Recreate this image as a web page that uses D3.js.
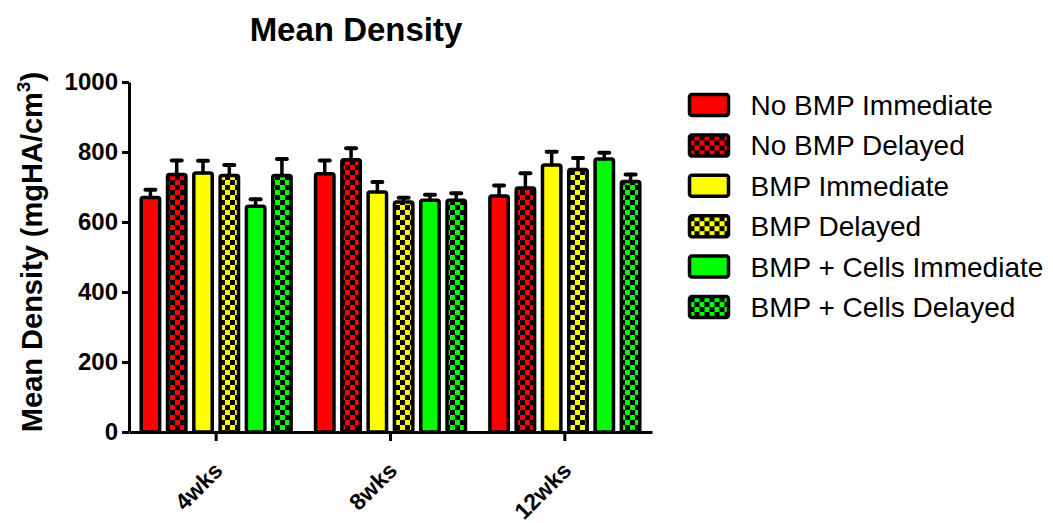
<!DOCTYPE html>
<html>
<head>
<meta charset="utf-8">
<script src="https://cdn.jsdelivr.net/npm/d3@7"></script>
<style>
  html, body { margin: 0; padding: 0; background: #fff; }
  svg { display: block; font-family: "Liberation Sans", Arial, sans-serif; }
</style>
</head>
<body>
<svg id="chart" width="1053" height="523"></svg>
<script>
// Time points on the x axis
const categories = ["4wks", "8wks", "12wks"];

// Treatment groups (legend order)
const seriesNames = [
  "No BMP Immediate",
  "No BMP Delayed",
  "BMP Immediate",
  "BMP Delayed",
  "BMP + Cells Immediate",
  "BMP + Cells Delayed"
];
const seriesColors = ["#ff0000", "#ff0000", "#ffff00", "#ffff00", "#00ff00", "#00ff00"];
const seriesChecked = [false, true, false, true, false, true];

// Mean density (mgHA/cm3) per group, one value per time point
const noBmpImmediate      = [670, 738, 674];
const noBmpDelayed        = [736, 778, 697];
const bmpImmediate        = [740, 686, 763];
const bmpDelayed          = [733, 657, 750];
const bmpCellsImmediate   = [645, 662, 780];
const bmpCellsDelayed     = [733, 662, 716];

// Standard error per group
const noBmpImmediateErr    = [22, 38, 30];
const noBmpDelayedErr      = [40, 33, 42];
const bmpImmediateErr      = [35, 28, 38];
const bmpDelayedErr        = [30, 12, 33];
const bmpCellsImmediateErr = [20, 16, 18];
const bmpCellsDelayedErr   = [47, 20, 20];

const yTicks = [0, 200, 400, 600, 800, 1000];

const means = [noBmpImmediate, noBmpDelayed, bmpImmediate, bmpDelayed, bmpCellsImmediate, bmpCellsDelayed];
const errs = [noBmpImmediateErr, noBmpDelayedErr, bmpImmediateErr, bmpDelayedErr, bmpCellsImmediateErr, bmpCellsDelayedErr];

const rows = [];
categories.forEach((c, ci) => {
  seriesNames.forEach((s, si) => {
    rows.push({ cat: c, series: s, si, value: means[si][ci], err: errs[si][ci] });
  });
});

const svg = d3.select("#chart");
const STROKE = 3.5;

// Checkered fills for the "Delayed" groups
const defs = svg.append("defs");
seriesNames.forEach((s, si) => {
  if (!seriesChecked[si]) return;
  const p = defs.append("pattern")
    .attr("id", "check" + si)
    .attr("patternUnits", "userSpaceOnUse")
    .attr("width", 10).attr("height", 10);
  p.append("rect").attr("width", 10).attr("height", 10).attr("fill", seriesColors[si]);
  p.append("rect").attr("x", 0).attr("y", 0).attr("width", 5).attr("height", 5).attr("fill", "#000");
  p.append("rect").attr("x", 5).attr("y", 5).attr("width", 5).attr("height", 5).attr("fill", "#000");
});
const fillFor = si => seriesChecked[si] ? `url(#check${si})` : seriesColors[si];

// Scales
const y = d3.scaleLinear().domain([0, 1000]).range([432, 82]);
const x0 = d3.scaleBand().domain(categories).range([129, 652]).paddingInner(0.12).paddingOuter(0.06);
const x1 = d3.scaleBand().domain(seriesNames).range([0, x0.bandwidth()]).paddingInner(0.3).paddingOuter(0.067);

// Bars
const bars = svg.append("g");
bars.selectAll("rect")
  .data(rows)
  .join("rect")
  .attr("x", d => x0(d.cat) + x1(d.series))
  .attr("y", d => y(d.value))
  .attr("width", x1.bandwidth())
  .attr("height", d => y(0) - y(d.value))
  .attr("rx", 2)
  .attr("fill", d => fillFor(d.si))
  .attr("stroke", "#000")
  .attr("stroke-width", STROKE);

// Error bars (upper half)
const eb = svg.append("g").attr("stroke", "#000").attr("stroke-linecap", "round");
eb.selectAll("line.v")
  .data(rows)
  .join("line")
  .attr("class", "v")
  .attr("x1", d => x0(d.cat) + x1(d.series) + x1.bandwidth() / 2)
  .attr("x2", d => x0(d.cat) + x1(d.series) + x1.bandwidth() / 2)
  .attr("y1", d => y(d.value))
  .attr("y2", d => y(d.value + d.err))
  .attr("stroke-width", 3.5);
eb.selectAll("line.cap")
  .data(rows)
  .join("line")
  .attr("class", "cap")
  .attr("x1", d => x0(d.cat) + x1(d.series) + x1.bandwidth() / 2 - 5)
  .attr("x2", d => x0(d.cat) + x1(d.series) + x1.bandwidth() / 2 + 5)
  .attr("y1", d => y(d.value + d.err))
  .attr("y2", d => y(d.value + d.err))
  .attr("stroke-width", 4);

// Y axis
const yAxis = svg.append("g")
  .attr("transform", "translate(129,0)")
  .call(d3.axisLeft(y).tickValues(yTicks).tickFormat(d3.format("d")).tickSize(7).tickSizeOuter(0).tickPadding(4));
yAxis.select(".domain").attr("stroke-width", 3);
yAxis.selectAll(".tick line").attr("stroke-width", 3);
yAxis.selectAll(".tick text")
  .attr("font-family", "Liberation Sans, Arial, sans-serif")
  .attr("font-size", 24).attr("font-weight", "bold").attr("fill", "#000");

// X axis
const xAxis = svg.append("g")
  .attr("transform", "translate(0,432)")
  .call(d3.axisBottom(x0).tickSize(9).tickSizeOuter(0));
xAxis.select(".domain").attr("stroke-width", 3);
xAxis.selectAll(".tick line").attr("stroke-width", 3);
xAxis.selectAll(".tick text")
  .attr("font-family", "Liberation Sans, Arial, sans-serif")
  .attr("font-size", 23).attr("font-weight", "bold").attr("fill", "#000")
  .attr("text-anchor", "end")
  .attr("dy", 0)
  .attr("transform", "translate(8,40) rotate(-45)")
  .attr("y", 0);

// Title
svg.append("text")
  .attr("x", 356).attr("y", 41)
  .attr("text-anchor", "middle")
  .attr("font-size", 33).attr("font-weight", "bold")
  .text("Mean Density");

// Y axis label with superscript
const yl = svg.append("text")
  .attr("transform", "translate(42,252) rotate(-90)")
  .attr("text-anchor", "middle")
  .attr("font-size", 29).attr("font-weight", "bold");
yl.append("tspan").text("Mean Density (mgHA/cm");
yl.append("tspan").attr("font-size", 19).attr("dy", -12).text("3");
yl.append("tspan").attr("dy", 12).text(")");

// Legend
const legend = svg.append("g");
const li = legend.selectAll("g")
  .data(seriesNames)
  .join("g")
  .attr("transform", (d, i) => `translate(689.5,${105 + i * 40.4})`);
li.append("rect")
  .attr("x", 0).attr("y", -10.5)
  .attr("width", 39).attr("height", 21).attr("rx", 2.5)
  .attr("fill", (d, i) => fillFor(i))
  .attr("stroke", "#000").attr("stroke-width", 3.5);
li.append("text")
  .attr("x", 61).attr("y", 10)
  .attr("font-size", 28)
  .text(d => d);
</script>
</body>
</html>
